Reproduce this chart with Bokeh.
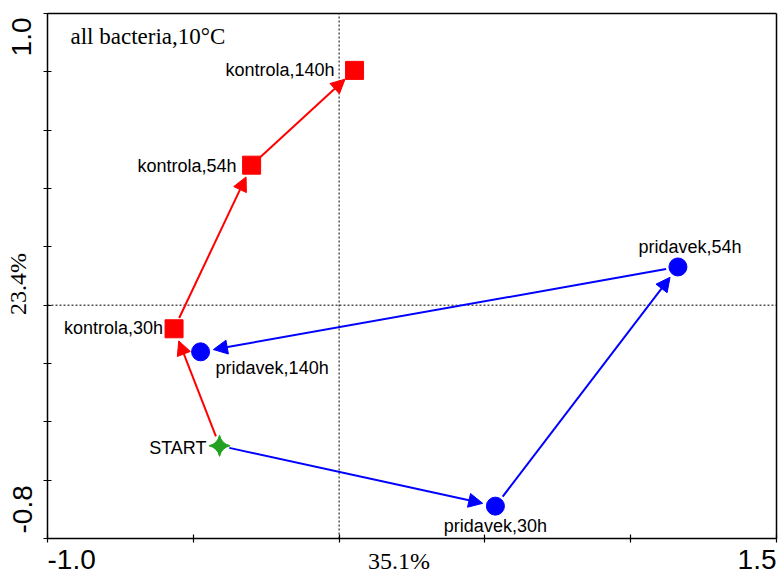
import numpy as np
from math import pi
from bokeh.plotting import figure
from bokeh.models import (Range1d, FixedTicker, LinearAxis, Label, LabelSet, Arrow,
                          NormalHead, ColumnDataSource)
from bokeh.core.properties import value
from bokeh.embed import file_html
from bokeh.resources import INLINE

# ---- data ----
start_name = ["START"]
start_x = [-0.410]
start_y = [-0.482]

kontrola_names = ["kontrola,30h", "kontrola,54h", "kontrola,140h"]
kontrola_x = [-0.566, -0.300, 0.053]
kontrola_y = [-0.081, 0.480, 0.805]

pridavek_names = ["pridavek,30h", "pridavek,54h", "pridavek,140h"]
pridavek_x = [0.536, 1.162, -0.475]
pridavek_y = [-0.689, 0.131, -0.160]

x_ticks = [-1.0, -0.5, 0.0, 0.5, 1.0, 1.5]
y_ticks = [-0.8, -0.6, -0.4, -0.2, 0.0, 0.2, 0.4, 0.6, 0.8, 1.0]
x_axis_pct = "35.1%"
y_axis_pct = "23.4%"
title_text = "all bacteria,10°C"

X0, X1 = -1.0, 1.5
Y0, Y1 = -0.8, 1.0

# ---- layout ----
W, H = 778, 576
ML, MR, MT, MB = 47, 2, 13, 38      # pixels between canvas edge and data box
sx = (W - ML - MR) / (X1 - X0)
sy = (H - MT - MB) / (Y1 - Y0)

p = figure(width=W, height=H,
           x_range=Range1d(X0 - ML / sx, X1 + MR / sx),
           y_range=Range1d(Y0 - MB / sy, Y1 + MT / sy),
           output_backend="svg", toolbar_location=None,
           min_border=0, min_border_left=0, min_border_right=0,
           min_border_top=0, min_border_bottom=0)
p.grid.visible = False
p.outline_line_color = None
p.background_fill_color = "white"
p.border_fill_color = "white"


def style_axis(ax, ticks, loc, bounds):
    ax.fixed_location = loc
    ax.bounds = bounds
    ax.ticker = FixedTicker(ticks=ticks)
    ax.major_tick_in = 4
    ax.major_tick_out = 4
    ax.minor_tick_line_color = None
    ax.axis_line_width = 1.5
    ax.axis_line_color = "black"
    ax.major_tick_line_width = 1.2
    ax.major_tick_line_color = "black"
    ax.major_label_overrides = {t: "" for t in ticks}


style_axis(p.xaxis[0], x_ticks, Y0, (X0, X1))
style_axis(p.yaxis[0], y_ticks, X0, (Y0, Y1))

top = LinearAxis()
style_axis(top, [], Y1, (X0, X1))
p.add_layout(top, "above")
right = LinearAxis()
style_axis(right, [], X1, (Y0, Y1))
p.add_layout(right, "right")

# dashed zero lines inside the box
p.segment(x0=[0, X0], y0=[Y0, 0], x1=[0, X1], y1=[Y1, 0],
          line_color="black", line_width=1, line_dash="2 2", level="underlay")


def shortened(xs, ys, xe, ye, cut_s, cut_e):
    dx = (xe - xs) * sx
    dy = (ye - ys) * sy
    L = np.hypot(dx, dy)
    ux, uy = dx / L, dy / L
    return (xs + ux * cut_s / sx, ys + uy * cut_s / sy,
            xe - ux * cut_e / sx, ye - uy * cut_e / sy)


def add_path(px, py, color):
    for i in range(len(px) - 1):
        cut_s = 10 if i == 0 else 12
        a, b, c, d = shortened(px[i], py[i], px[i + 1], py[i + 1], cut_s, 13)
        p.add_layout(Arrow(end=NormalHead(size=14, fill_color=color, line_color=color),
                           x_start=a, y_start=b, x_end=c, y_end=d,
                           line_color=color, line_width=2))


add_path(start_x + kontrola_x, start_y + kontrola_y, "#FF0000")
add_path(start_x + pridavek_x, start_y + pridavek_y, "#0000FF")

p.scatter(kontrola_x, kontrola_y, marker="square", size=18,
          fill_color="#FF0000", line_color="#FF0000")
p.scatter(pridavek_x, pridavek_y, marker="circle", size=18,
          fill_color="#0000FF", line_color="#0000FF")
p.scatter(start_x, start_y, marker="square_pin", size=15, angle=pi / 4,
          fill_color="#22A022", line_color="#22A022")

# point labels
lab_src = ColumnDataSource(dict(
    x=start_x + kontrola_x + pridavek_x,
    y=start_y + kontrola_y + pridavek_y,
    text=start_name + kontrola_names + pridavek_names,
    align=["right", "right", "right", "right", "center", "center", "left"],
    xo=[-13, -11, -15, -20, 0, 12, 15],
    yo=[-2, 1, -1, 0, -20, 20, -16],
))
p.add_layout(LabelSet(x="x", y="y", text="text", source=lab_src,
                      x_offset="xo", y_offset="yo", text_align="align",
                      text_baseline="middle", text_font=value("Liberation Sans"),
                      text_font_size="18px", text_color="black"))

# title inside the box
p.add_layout(Label(x=X0, y=Y1, text=title_text, x_offset=23, y_offset=-23,
                   text_baseline="middle", text_align="left",
                   text_font="Liberation Serif", text_font_size="23px",
                   text_color="black"))

# axis texts
sans = dict(text_font="Liberation Sans", text_font_size="28px", text_color="black")
serif = dict(text_font="Liberation Serif", text_font_size="24px", text_color="black")
p.add_layout(Label(x=X0, y=Y0, text=f"{x_ticks[0]:.1f}", text_align="left",
                   text_baseline="top", y_offset=-11, **sans))
p.add_layout(Label(x=X1, y=Y0, text=f"{x_ticks[-1]:.1f}", text_align="right",
                   text_baseline="top", y_offset=-11, **sans))
p.add_layout(Label(x=(X0 + X1) / 2, y=Y0, text=x_axis_pct, text_align="center",
                   text_baseline="top", x_offset=-13, y_offset=-9, **serif))
p.add_layout(Label(x=X0, y=Y1, text=f"{y_ticks[-1]:.1f}", text_align="right",
                   text_baseline="middle", angle=pi / 2, x_offset=-26,
                   y_offset=-4, **sans))
p.add_layout(Label(x=X0, y=Y0, text=f"{y_ticks[0]:.1f}", text_align="left",
                   text_baseline="middle", angle=pi / 2, x_offset=-25,
                   y_offset=5, **sans))
p.add_layout(Label(x=X0, y=(Y0 + Y1) / 2, text=y_axis_pct, text_align="center",
                   text_baseline="middle", angle=pi / 2, x_offset=-30,
                   y_offset=-8, **serif))

open("out.html", "w").write(file_html(p, INLINE))
